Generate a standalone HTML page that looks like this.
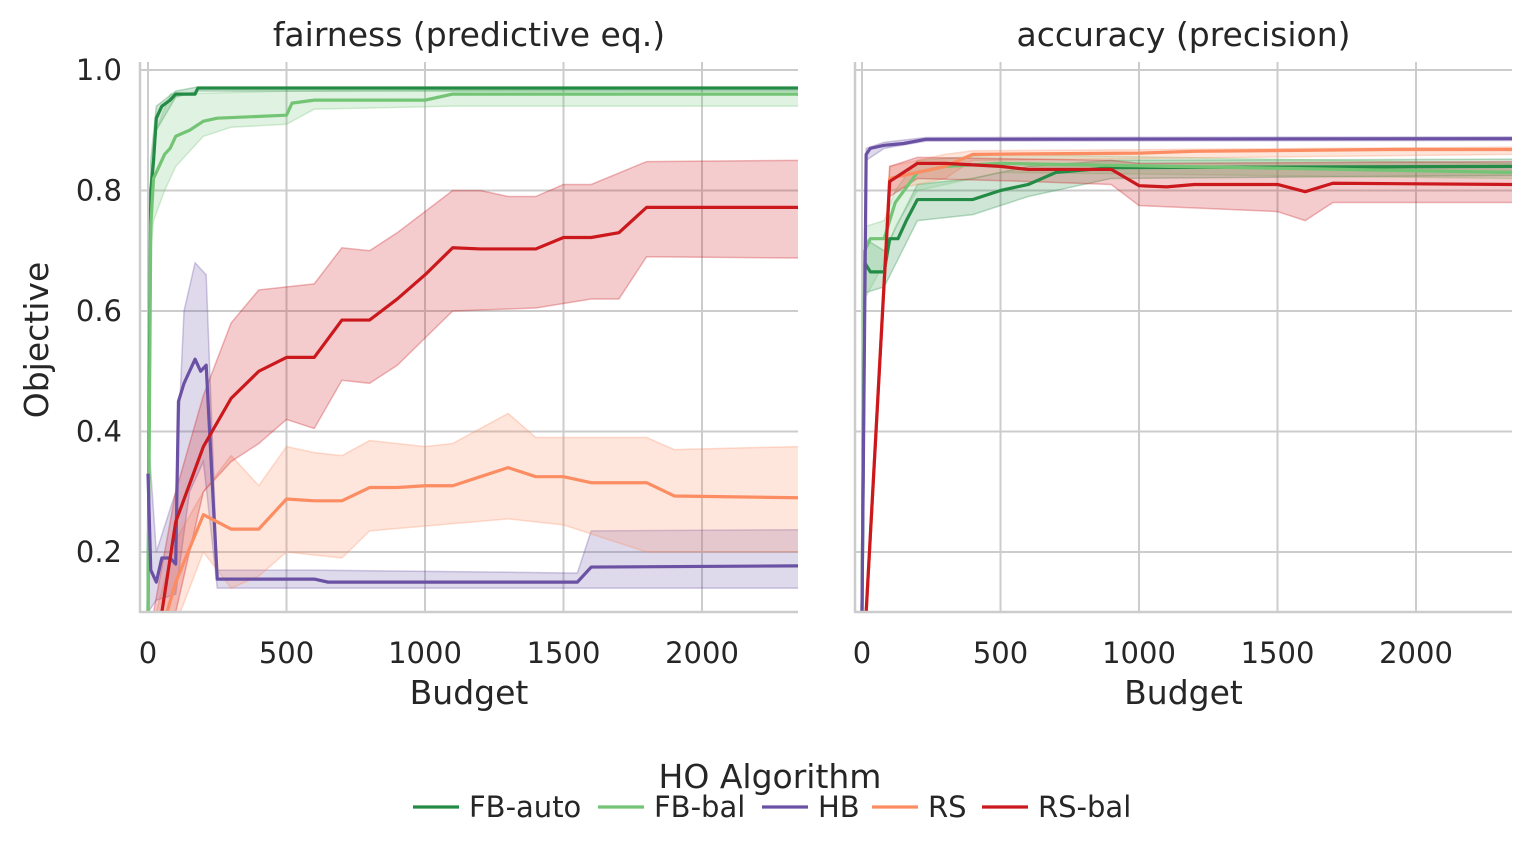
<!DOCTYPE html>
<html><head><meta charset="utf-8">
<style>
html,body{margin:0;padding:0;background:#fff;}
svg{display:block;font-family:"DejaVu Sans","Liberation Sans",sans-serif;}
</style></head>
<body>
<svg id="chart" width="1532" height="856" viewBox="0 0 1532 856" xmlns="http://www.w3.org/2000/svg">
<defs>
<clipPath id="clipL"><rect x="140" y="62" width="658" height="550"/></clipPath>
<clipPath id="clipR"><rect x="855" y="62" width="657" height="550"/></clipPath>
</defs>
<g id="layer"></g>
</svg>
<script>
const NS="http://www.w3.org/2000/svg";
const seriesNames=["FB-auto","FB-bal","HB","RS","RS-bal"];
const seriesColors=["#238b45","#74c476","#6a51a3","#fc8d62","#cb181d"];
const xTicks=[0,500,1000,1500,2000];
const yTicks=[0.2,0.4,0.6,0.8,1.0];
const panelTitles=["fairness (predictive eq.)","accuracy (precision)"];

const L_fbauto=[[0,0.1],[5,0.5],[10,0.8],[20,0.85],[30,0.92],[50,0.94],[80,0.95],[100,0.96],[170,0.96],[180,0.97],[2350,0.97]];
const L_fbauto_lo=[[0,0.1],[10,0.75],[30,0.9],[100,0.955],[180,0.965],[2350,0.965]];
const L_fbauto_hi=[[0,0.2],[10,0.85],[30,0.94],[100,0.965],[180,0.972],[2350,0.972]];
const L_fbbal=[[0,0.1],[10,0.74],[20,0.82],[40,0.84],[60,0.86],[80,0.87],[100,0.89],[150,0.9],[200,0.915],[250,0.92],[500,0.925],[520,0.945],[600,0.95],[1000,0.95],[1100,0.96],[2350,0.96]];
const L_fbbal_lo=[[0,0.1],[10,0.7],[20,0.75],[60,0.8],[100,0.84],[200,0.89],[300,0.905],[500,0.91],[600,0.935],[1100,0.94],[2350,0.94]];
const L_fbbal_hi=[[0,0.2],[10,0.8],[30,0.9],[80,0.96],[500,0.965],[2350,0.97]];
const L_hb=[[0,0.33],[10,0.17],[30,0.15],[50,0.19],[80,0.19],[100,0.18],[110,0.45],[130,0.48],[150,0.5],[170,0.52],[190,0.5],[210,0.51],[250,0.155],[600,0.155],[650,0.15],[1550,0.15],[1600,0.175],[2350,0.177]];
const L_hb_lo=[[0,0.1],[30,0.12],[100,0.13],[150,0.3],[200,0.35],[250,0.14],[600,0.14],[2350,0.14]];
const L_hb_hi=[[0,0.4],[30,0.2],[100,0.3],[130,0.6],[170,0.68],[210,0.66],[250,0.17],[600,0.17],[1550,0.165],[1600,0.235],[2350,0.237]];
const L_rs=[[0,0.02],[50,0.07],[100,0.15],[200,0.262],[300,0.238],[400,0.238],[500,0.288],[600,0.285],[700,0.285],[800,0.307],[900,0.307],[1000,0.31],[1100,0.31],[1200,0.325],[1300,0.34],[1400,0.325],[1500,0.325],[1600,0.315],[1800,0.315],[1900,0.293],[2350,0.29]];
const L_rs_lo=[[0,0.0],[100,0.08],[200,0.2],[300,0.14],[400,0.16],[500,0.2],[700,0.19],[800,0.235],[1300,0.255],[1500,0.245],[1800,0.2],[2350,0.2]];
const L_rs_hi=[[0,0.05],[100,0.22],[200,0.3],[300,0.36],[400,0.31],[500,0.375],[600,0.365],[700,0.36],[800,0.385],[1000,0.375],[1100,0.38],[1300,0.43],[1400,0.39],[1800,0.39],[1900,0.37],[2350,0.375]];
const L_rsbal=[[0,0.02],[50,0.1],[100,0.25],[200,0.375],[300,0.455],[400,0.5],[500,0.523],[600,0.523],[700,0.585],[800,0.585],[900,0.62],[1000,0.66],[1100,0.705],[1200,0.703],[1400,0.703],[1500,0.722],[1600,0.722],[1700,0.73],[1800,0.772],[2350,0.772]];
const L_rsbal_lo=[[0,0.0],[100,0.1],[200,0.3],[300,0.35],[400,0.38],[500,0.42],[600,0.405],[700,0.485],[800,0.48],[900,0.51],[1000,0.555],[1100,0.6],[1400,0.605],[1600,0.62],[1700,0.62],[1800,0.69],[2350,0.688]];
const L_rsbal_hi=[[0,0.05],[100,0.3],[200,0.46],[300,0.58],[400,0.635],[600,0.645],[700,0.705],[800,0.7],[900,0.73],[1100,0.8],[1200,0.8],[1300,0.79],[1400,0.79],[1500,0.81],[1600,0.81],[1800,0.848],[2350,0.85]];

const R_fbauto=[[0,0.1],[10,0.68],[30,0.665],[80,0.665],[100,0.72],[130,0.72],[160,0.75],[200,0.785],[400,0.785],[500,0.8],[600,0.81],[700,0.83],[900,0.838],[2350,0.84]];
const R_fbauto_lo=[[0,0.1],[10,0.63],[80,0.64],[200,0.75],[400,0.76],[600,0.79],[900,0.82],[2350,0.825]];
const R_fbauto_hi=[[0,0.2],[10,0.72],[80,0.7],[200,0.81],[400,0.82],[600,0.84],[900,0.85],[2350,0.852]];
const R_fbbal=[[0,0.1],[10,0.7],[30,0.72],[80,0.72],[120,0.78],[200,0.83],[300,0.84],[500,0.845],[2350,0.83]];
const R_fbbal_lo=[[0,0.1],[10,0.62],[80,0.68],[120,0.74],[200,0.8],[500,0.83],[2350,0.82]];
const R_fbbal_hi=[[0,0.2],[10,0.74],[80,0.75],[120,0.8],[200,0.85],[500,0.86],[2350,0.845]];
const R_hb=[[0,0.1],[15,0.86],[30,0.87],[80,0.875],[150,0.878],[230,0.885],[2350,0.886]];
const R_hb_lo=[[0,0.1],[15,0.85],[80,0.87],[230,0.882],[2350,0.883]];
const R_hb_hi=[[0,0.2],[15,0.87],[80,0.88],[230,0.888],[2350,0.889]];
const R_rs=[[0,0.02],[15,0.1],[100,0.82],[200,0.83],[300,0.84],[400,0.86],[1000,0.862],[1200,0.865],[1900,0.868],[2350,0.868]];
const R_rs_lo=[[0,0.02],[15,0.1],[100,0.8],[300,0.82],[400,0.85],[2350,0.86]];
const R_rs_hi=[[0,0.02],[15,0.1],[100,0.84],[300,0.86],[400,0.866],[2350,0.872]];
const R_rsbal=[[0,0.02],[15,0.1],[100,0.815],[200,0.845],[300,0.845],[500,0.84],[600,0.835],[900,0.835],[1000,0.808],[1100,0.806],[1200,0.81],[1500,0.81],[1600,0.798],[1700,0.812],[2350,0.81]];
const R_rsbal_lo=[[0,0.02],[15,0.1],[100,0.79],[200,0.82],[600,0.815],[900,0.81],[1000,0.775],[1500,0.765],[1600,0.75],[1700,0.78],[2350,0.78]];
const R_rsbal_hi=[[0,0.02],[15,0.1],[100,0.84],[200,0.855],[900,0.85],[1000,0.845],[2350,0.848]];

const panels=[
 {x0:140,x1:798,zero:148,clip:"clipL",data:[[L_fbauto,L_fbauto_lo,L_fbauto_hi],[L_fbbal,L_fbbal_lo,L_fbbal_hi],[L_hb,L_hb_lo,L_hb_hi],[L_rs,L_rs_lo,L_rs_hi],[L_rsbal,L_rsbal_lo,L_rsbal_hi]]},
 {x0:855,x1:1512,zero:862,clip:"clipR",data:[[R_fbauto,R_fbauto_lo,R_fbauto_hi],[R_fbbal,R_fbbal_lo,R_fbbal_hi],[R_hb,R_hb_lo,R_hb_hi],[R_rs,R_rs_lo,R_rs_hi],[R_rsbal,R_rsbal_lo,R_rsbal_hi]]}
];
const yTop=62,yBot=612;
const yScale=v=>70+(1.0-v)*602.5;
const layer=document.getElementById('layer');
function el(tag,attrs,parent){const e=document.createElementNS(NS,tag);for(const k in attrs)e.setAttribute(k,attrs[k]);(parent||layer).appendChild(e);return e;}
function txt(s,attrs,parent){const t=el('text',attrs,parent);t.textContent=s;return t;}

panels.forEach((p,pi)=>{
 const xs=v=>p.zero+v*0.277;
 const g=el('g',{});
 
 
 xTicks.forEach(t=>{
  const l=el('line',{x1:xs(t),x2:xs(t),y1:yTop,y2:yBot,stroke:'#cccccc','stroke-width':2},g);
  
  
  const tl=txt(String(t),{x:xs(t),y:663,'text-anchor':'middle','font-size':29,fill:'#262626'},g);
  
  
 });
 yTicks.forEach(t=>{
  const l=el('line',{x1:p.x0,x2:p.x1,y1:yScale(t),y2:yScale(t),stroke:'#cccccc','stroke-width':2},g);
  
  
  if(pi===0){
   const tl=txt(t.toFixed(1),{x:122,y:yScale(t)+10,'text-anchor':'end','font-size':29,fill:'#262626'},g);
   
   
  }
 });
 const cg=el('g',{'clip-path':'url(#'+p.clip+')'},g);
 p.data.forEach((d,si)=>{
  const [m,lo,hi]=d;
  const pts=hi.map(q=>xs(q[0])+','+yScale(q[1])).concat(lo.slice().reverse().map(q=>xs(q[0])+','+yScale(q[1])));
  const band=el('polygon',{points:pts.join(' '),fill:seriesColors[si],'fill-opacity':0.22,stroke:seriesColors[si],'stroke-opacity':0.3,'stroke-width':1.5},cg);
  
  
 });
 p.data.forEach((d,si)=>{
  const m=d[0];
  const line=el('polyline',{points:m.map(q=>xs(q[0])+','+yScale(q[1])).join(' '),fill:'none',stroke:seriesColors[si],'stroke-width':3.2,'stroke-linejoin':'round'},cg);
  
  
 });
 const sp1=el('line',{x1:p.x0,x2:p.x0,y1:yTop,y2:yBot+1,stroke:'#cccccc','stroke-width':2.5},g);
 
 
 const sp2=el('line',{x1:p.x0,x2:p.x1,y1:yBot,y2:yBot,stroke:'#cccccc','stroke-width':2.5},g);
 
 
 const title=txt(panelTitles[pi],{x:(p.x0+p.x1)/2,y:46,'text-anchor':'middle','font-size':33,fill:'#262626'},g);
 
 
 const xl=txt('Budget',{x:(p.x0+p.x1)/2,y:704,'text-anchor':'middle','font-size':33,fill:'#262626'},g);
 
 
});
const yl=txt('Objective',{x:0,y:0,transform:'translate(48,340) rotate(-90)','text-anchor':'middle','font-size':33,fill:'#262626'});



const lg=el('g',{});


const lt=txt('HO Algorithm',{x:770,y:788,'text-anchor':'middle','font-size':33,fill:'#262626'},lg);


const legX=[413,598,762,872,982];
seriesNames.forEach((n,i)=>{
 const e=el('g',{},lg);
 
 
 el('line',{x1:legX[i],x2:legX[i]+46,y1:807,y2:807,stroke:seriesColors[i],'stroke-width':3.2},e);
 txt(n,{x:legX[i]+56,y:817,'font-size':29,fill:'#262626'},e);
});
</script>
</body></html>
